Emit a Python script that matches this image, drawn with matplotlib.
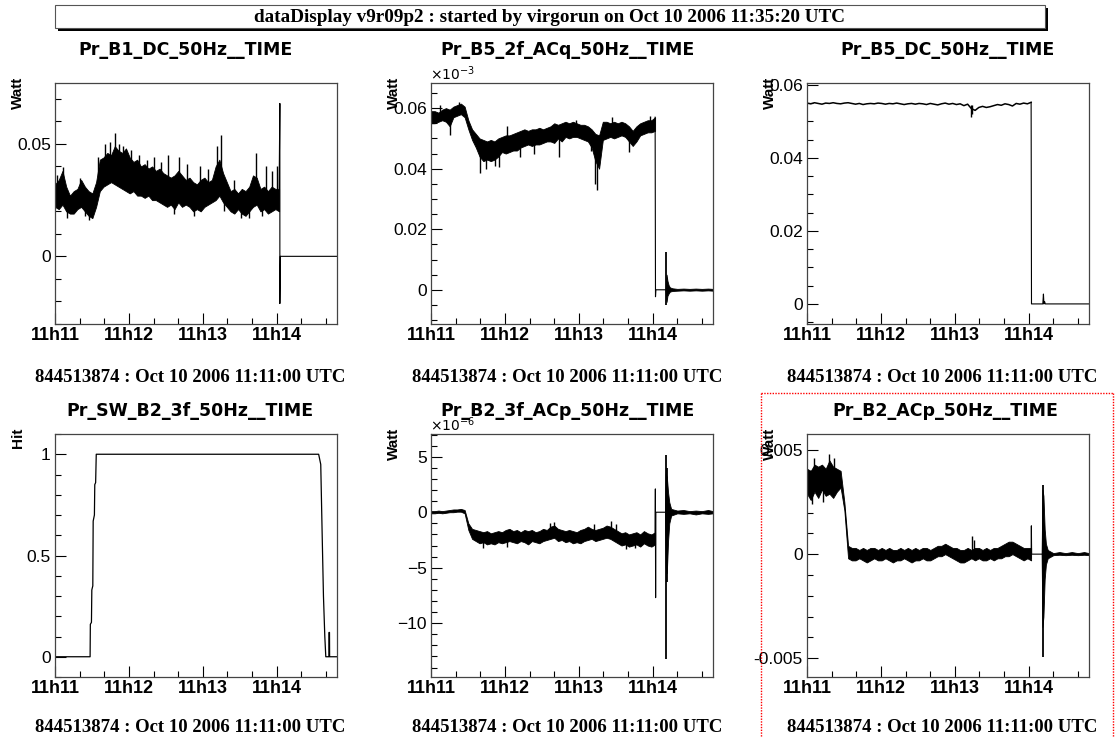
import numpy as np
import matplotlib
matplotlib.use('Agg')
import matplotlib.pyplot as plt
from matplotlib.ticker import MultipleLocator, FixedLocator
from matplotlib.patches import Rectangle
from matplotlib.lines import Line2D

W, H = 1115, 737

# time in seconds after 11h11:00
t_band = np.linspace(0, 182, 61)
t_end = 229
time_ticks = [0, 60, 120, 180]
time_labels = ['11h11', '11h12', '11h13', '11h14']

titles = ['Pr_B1_DC_50Hz__TIME', 'Pr_B5_2f_ACq_50Hz__TIME', 'Pr_B5_DC_50Hz__TIME',
          'Pr_SW_B2_3f_50Hz__TIME', 'Pr_B2_3f_ACp_50Hz__TIME', 'Pr_B2_ACp_50Hz__TIME']
units = ['Watt', 'Watt', 'Watt', 'Hit', 'Watt', 'Watt']
gps_label = '844513874 : Oct 10 2006 11:11:00 UTC'
header = 'dataDisplay v9r09p2 : started by virgorun on Oct 10 2006 11:35:20 UTC'

# ---- Pr_B1_DC_50Hz
b1_hi = [0.032, 0.034, 0.038, 0.031, 0.027, 0.029, 0.030, 0.034, 0.031, 0.029,
         0.028, 0.033, 0.043, 0.044, 0.046, 0.045, 0.049, 0.047, 0.046, 0.048,
         0.044, 0.042, 0.043, 0.040, 0.041, 0.039, 0.040, 0.038, 0.039, 0.037,
         0.036, 0.035, 0.036, 0.038, 0.036, 0.034, 0.035, 0.033, 0.032, 0.034,
         0.035, 0.033, 0.034, 0.040, 0.043, 0.037, 0.033, 0.029, 0.030, 0.028,
         0.030, 0.029, 0.031, 0.036, 0.035, 0.030, 0.031, 0.029, 0.031, 0.030, 0.030]
b1_lo = [0.022, 0.021, 0.023, 0.020, 0.019, 0.019, 0.021, 0.022, 0.020, 0.018,
         0.017, 0.022, 0.029, 0.031, 0.032, 0.033, 0.032, 0.031, 0.030, 0.029,
         0.028, 0.029, 0.027, 0.027, 0.026, 0.027, 0.025, 0.025, 0.024, 0.023,
         0.022, 0.023, 0.021, 0.024, 0.022, 0.023, 0.022, 0.020, 0.021, 0.020,
         0.022, 0.023, 0.024, 0.025, 0.027, 0.024, 0.022, 0.020, 0.019, 0.021,
         0.019, 0.018, 0.020, 0.022, 0.023, 0.020, 0.021, 0.019, 0.020, 0.021, 0.020]
b1_spk_t = [2, 6.5, 10, 20, 24, 28, 35, 41, 44.6, 48.7, 52, 55.5, 61.8, 68, 75, 80, 86,
            92, 97, 101, 107, 113, 118, 124, 131.7, 134.4, 137, 145, 151, 157.5, 163,
            168, 171, 176, 180]
b1_spk_v = [0.036, 0.0396, 0.017, 0.035, 0.018, 0.016, 0.044, 0.050, 0.051, 0.055,
            0.050, 0.049, 0.0475, 0.045, 0.043, 0.044, 0.042, 0.045, 0.019, 0.044,
            0.041, 0.018, 0.040, 0.039, 0.049, 0.054, 0.020, 0.034, 0.017, 0.017,
            0.046, 0.018, 0.040, 0.038, 0.040]
b1_tail_t = [182, 182.6, 182.6, 183.0, t_end]
b1_tail_v = [0.030, 0.068, -0.021, 0.0, 0.0]

# ---- Pr_B5_2f_ACq_50Hz (x 1e-3 on the axis)
b5q_hi = [0.059, 0.059, 0.0585, 0.0595, 0.060, 0.0595, 0.0605, 0.061, 0.0615, 0.0605,
          0.056, 0.053, 0.0515, 0.050, 0.0495, 0.049, 0.0495, 0.049, 0.050, 0.0505,
          0.051, 0.051, 0.0515, 0.052, 0.0525, 0.053, 0.0525, 0.053, 0.053, 0.0535,
          0.053, 0.0535, 0.054, 0.055, 0.0545, 0.055, 0.0555, 0.055, 0.0555, 0.055,
          0.0545, 0.0545, 0.054, 0.053, 0.0515, 0.051, 0.0555, 0.0555, 0.055, 0.0555,
          0.055, 0.0555, 0.055, 0.054, 0.0525, 0.054, 0.055, 0.0555, 0.056, 0.056, 0.057]
b5q_lo = [0.055, 0.055, 0.0555, 0.056, 0.0555, 0.054, 0.057, 0.0575, 0.058, 0.057,
          0.053, 0.0495, 0.047, 0.044, 0.0425, 0.043, 0.0425, 0.043, 0.044, 0.0455,
          0.045, 0.0455, 0.046, 0.046, 0.047, 0.0475, 0.048, 0.0475, 0.048, 0.048,
          0.0485, 0.049, 0.049, 0.0485, 0.050, 0.049, 0.0505, 0.050, 0.0505, 0.0505,
          0.050, 0.0495, 0.049, 0.047, 0.0425, 0.040, 0.0495, 0.050, 0.0505, 0.050,
          0.0505, 0.051, 0.0505, 0.049, 0.0475, 0.049, 0.051, 0.0515, 0.052, 0.052, 0.0525]
b5q_spk_t = [7, 15.5, 23, 40, 45, 52, 55, 62, 72, 84, 104, 118, 130, 133.5, 134.5, 147, 161, 178]
b5q_spk_v = [0.061, 0.051, 0.062, 0.0385, 0.040, 0.041, 0.0405, 0.054, 0.044, 0.045,
             0.044, 0.056, 0.046, 0.035, 0.033, 0.057, 0.0455, 0.0575]
b5q_tail_t = [182, 182.3, 182.6, 190.5]
b5q_tail_v = [0.057, -0.0023, 0.0, 0.0]
b5q_post_t = [190.5, 191.3, 192, 193, 194, 196, 200, 205, 210, 215, 220, 225, t_end]
b5q_post_hi = [0.0, 0.005, 0.003, 0.0015, 0.0008, 0.0005, 0.0003, 0.0004, 0.0003, 0.0004, 0.0003, 0.0004, 0.0003]
b5q_post_lo = [0.0, -0.004, -0.002, -0.0012, -0.0006, -0.0004, -0.0003, -0.0002, -0.0003, -0.0002, -0.0003, -0.0002, -0.0003]
b5q_burst_t = [191.0]
b5q_burst_hi = [0.0126]
b5q_burst_lo = [-0.005]

# ---- Pr_B5_DC_50Hz
b5dc_v = [0.0550, 0.0548, 0.0551, 0.0549, 0.0547, 0.0550, 0.0549, 0.0551, 0.0549, 0.0548,
          0.0550, 0.0551, 0.0549, 0.0547, 0.0549, 0.0546, 0.0548, 0.0549, 0.0548, 0.0550,
          0.0549, 0.0547, 0.0549, 0.0548, 0.0550, 0.0548, 0.0546, 0.0548, 0.0549, 0.0547,
          0.0549, 0.0548, 0.0546, 0.0549, 0.0547, 0.0545, 0.0548, 0.0550, 0.0547, 0.0549,
          0.0546, 0.0548, 0.0543, 0.0547, 0.0535, 0.0530, 0.0538, 0.0541, 0.0538, 0.0540,
          0.0543, 0.0546, 0.0544, 0.0548, 0.0546, 0.0542, 0.0549, 0.0547, 0.0550, 0.0548, 0.0552]
b5dc_spk_t = [133.5, 134.3]
b5dc_spk_v = [0.0513, 0.0520]
b5dc_tail_t = [182, 182.3, 191.5, 192, 192.4, 193, 193.5, t_end]
b5dc_tail_v = [0.0552, 0.0, 0.0, 0.0027, 0.0, 0.0006, 0.0, 0.0]

# ---- Pr_SW_B2_3f_50Hz
sw_t = [0, 28.5, 28.7, 29.6, 29.9, 30.7, 31.0, 32.0, 32.3, 33.0, 33.5, 214.1, 215.8,
        216.9, 218.0, 219.1, 219.9, 222.4, 222.5, 222.9, 223.0, t_end]
sw_v = [0, 0, 0.16, 0.17, 0.33, 0.35, 0.67, 0.70, 0.85, 0.86, 1.0, 1.0, 0.95,
        0.62, 0.30, 0.10, 0.0, 0.0, 0.12, 0.12, 0.0, 0.0]

# ---- Pr_B2_3f_ACp_50Hz (x 1e-6 on the axis)
b2p3_hi = [0.1, 0.1, 0.15, 0.1, 0.15, 0.2, 0.25, 0.25, 0.3, 0.2,
           -1.0, -1.5, -1.6, -1.7, -1.8, -1.7, -1.9, -1.8, -1.7, -1.8,
           -1.6, -1.5, -1.7, -1.6, -1.8, -1.6, -1.7, -1.6, -1.8, -1.7,
           -1.5, -1.6, -1.3, -1.2, -1.5, -1.6, -1.7, -1.6, -1.7, -1.8,
           -1.6, -1.5, -1.3, -1.5, -1.6, -1.5, -1.4, -1.2, -1.3, -1.5,
           -1.7, -1.9, -1.8, -2.0, -1.9, -1.8, -2.0, -1.7, -1.9, -2.0, -1.8]
b2p3_lo = [-0.1, -0.1, -0.05, -0.1, -0.05, 0.0, 0.0, 0.05, 0.05, -0.1,
           -1.6, -2.4, -2.6, -2.8, -2.7, -2.9, -2.8, -2.9, -2.7, -2.8,
           -2.7, -2.6, -2.7, -2.8, -2.6, -2.7, -2.9, -2.6, -2.7, -2.8,
           -2.6, -2.5, -2.4, -2.3, -2.6, -2.5, -2.7, -2.6, -2.8, -2.7,
           -2.8, -2.6, -2.5, -2.4, -2.6, -2.5, -2.4, -2.3, -2.4, -2.6,
           -2.8, -3.0, -2.9, -3.1, -3.0, -2.9, -3.1, -2.8, -3.0, -3.1, -2.9]
b2p3_spk_t = [42, 62, 97, 100, 132, 146, 150, 158, 166]
b2p3_spk_v = [-3.2, -3.1, -1.0, -0.9, -1.1, -0.8, -1.1, -3.3, -3.2]
b2p3_tail_t = [182, 182.2, 182.4, 182.6, 190.0]
b2p3_tail_v = [-2.0, 2.1, -7.7, 0.0, 0.0]
b2p3_post_t = [190.0, 190.6, 191.5, 192.5, 193.5, 195, 200, 205, 210, 215, 220, 225, t_end]
b2p3_post_hi = [0.0, 3.5, 3.2, 1.8, 0.9, 0.3, 0.15, 0.2, 0.1, 0.15, 0.1, 0.2, 0.1]
b2p3_post_lo = [0.0, -5.0, -5.5, -2.6, -1.0, -0.3, -0.1, -0.15, -0.1, -0.2, -0.1, -0.15, -0.1]
b2p3_burst_t = [190.6, 191.3]
b2p3_burst_hi = [5.2, 4.0]
b2p3_burst_lo = [-13.2, -6.3]

# ---- Pr_B2_ACp_50Hz
b2p_hi = [0.0041, 0.0040, 0.0043, 0.0042, 0.0043, 0.0041, 0.0045, 0.0042, 0.0041, 0.0040,
          0.0025, 0.0004, 0.0003, 0.0003, 0.0002, 0.0003, 0.0002, 0.0003, 0.0003, 0.0002,
          0.0003, 0.0002, 0.0003, 0.0002, 0.0002, 0.0003, 0.0002, 0.0003, 0.0002, 0.0003,
          0.0002, 0.0003, 0.0003, 0.0002, 0.0003, 0.0004, 0.0004, 0.0005, 0.0004, 0.0003,
          0.0003, 0.0002, 0.0002, 0.0003, 0.0002, 0.0003, 0.0003, 0.0002, 0.0003, 0.0002,
          0.0003, 0.0003, 0.0004, 0.0005, 0.0006, 0.0006, 0.0005, 0.0004, 0.0003, 0.0003, 0.0003]
b2p_lo = [0.0029, 0.0026, 0.0030, 0.0027, 0.0031, 0.0028, 0.0029, 0.0027, 0.0030, 0.0032,
          0.0021, -0.0002, -0.0003, -0.0003, -0.0002, -0.0003, -0.0004, -0.0003, -0.0002, -0.0003,
          -0.0003, -0.0002, -0.0003, -0.0004, -0.0003, -0.0003, -0.0002, -0.0003, -0.0004, -0.0003,
          -0.0003, -0.0002, -0.0003, -0.0003, -0.0002, -0.0001, -0.0001, 0.0000, -0.0001, -0.0002,
          -0.0003, -0.0004, -0.0004, -0.0003, -0.0002, -0.0003, -0.0002, -0.0003, -0.0003, -0.0002,
          -0.0003, -0.0002, -0.0002, -0.0001, -0.0001, 0.0000, -0.0001, -0.0002, -0.0003, -0.0002, -0.0003]
b2p_spk_t = [4, 6, 13, 18, 22, 134, 136]
b2p_spk_v = [0.0024, 0.0046, 0.0025, 0.0048, 0.0046, 0.00085, 0.0007]
b2p_tail_t = [182, 182.2, 182.4, 190.5]
b2p_tail_v = [-0.0002, 0.00136, 0.0, 0.0]
b2p_post_t = [190.5, 191.2, 192, 193, 194, 195.5, 200, 205, 210, 215, 220, 225, t_end]
b2p_post_hi = [0.0, 0.0031, 0.0028, 0.0012, 0.0005, 0.0002, 0.00005, 0.0001, 0.00005, 0.0001, 0.00005, 0.0001, 0.00005]
b2p_post_lo = [0.0, -0.0035, -0.0030, -0.0012, -0.0005, -0.0002, -0.00005, -0.00003, -0.00005, -0.00003, -0.00005, -0.00003, -0.00005]
b2p_burst_t = [191.6]
b2p_burst_hi = [0.00333]
b2p_burst_lo = [-0.00494]

# axes frames in pixels: left, top, right, bottom
boxes = [(55, 83, 337, 324), (431, 83, 713, 324), (807, 83, 1089, 324),
         (55, 434, 337, 677), (431, 434, 713, 677), (807, 434, 1089, 677)]
ylims = [(-0.0301, 0.0771), (-0.0113, 0.0683), (-0.0055, 0.0605),
         (-0.1, 1.1), (-14.85, 7.05), (-0.0059, 0.00577)]
yticks = [[0, 0.05], [0, 0.02, 0.04, 0.06], [0, 0.02, 0.04, 0.06],
          [0, 0.5, 1], [-10, -5, 0, 5], [-0.005, 0, 0.005]]
ylabels = [['0', '0.05'], ['0', '0.02', '0.04', '0.06'], ['0', '0.02', '0.04', '0.06'],
           ['0', '0.5', '1'], ['\u221210', '\u22125', '0', '5'], ['-0.005', '0', '0.005']]
yminor = [0.01, 0.005, 0.005, 0.1, 1, 0.001]
exponents = [None, r'$\times10^{-3}$', None, None, r'$\times10^{-6}$', None]
title_x = [186, 567, 948, 190, 567, 945]
title_y = [50, 50, 50, 411, 411, 411]
foot_x = [190, 567, 942, 190, 567, 942]
foot_y = [378, 378, 378, 727, 727, 727]

fig = plt.figure(figsize=(W / 100, H / 100), dpi=100)
fig.patch.set_facecolor('white')


def band(ax, hi, lo, spk_t, spk_v):
    hi = np.array(hi)
    lo = np.array(lo)
    ax.fill_between(t_band, lo, hi, color='black', lw=0.6)
    idx = [np.abs(t_band - s).argmin() for s in spk_t]
    mid = [(hi[i] + lo[i]) / 2 for i in idx]
    ax.vlines(spk_t, mid, spk_v, color='black', lw=1.0)


def burst(ax, pt, phi, plo, bt, bhi, blo):
    ax.fill_between(pt, plo, phi, color='black', lw=0.6)
    ax.vlines(bt, blo, bhi, color='black', lw=1.3)


axes = []
for i, (x0, y0, x1, y1) in enumerate(boxes):
    ax = fig.add_axes([x0 / W, 1 - y1 / H, (x1 - x0) / W, (y1 - y0) / H])
    axes.append(ax)
    ax.set_xlim(0, t_end)
    ax.set_ylim(*ylims[i])
    ax.xaxis.set_major_locator(FixedLocator(time_ticks))
    ax.set_xticklabels(time_labels, fontfamily='Liberation Sans', fontweight='bold', fontsize=13)
    ax.xaxis.set_minor_locator(MultipleLocator(20))
    ax.yaxis.set_major_locator(FixedLocator(yticks[i]))
    ax.set_yticklabels(ylabels[i], fontfamily='Liberation Sans', fontsize=12.5)
    ax.yaxis.set_minor_locator(MultipleLocator(yminor[i]))
    ax.tick_params(which='major', direction='in', length=8, width=0.8, pad=3)
    ax.tick_params(which='minor', direction='in', length=4, width=0.8)
    ax.tick_params(axis='x', which='major', pad=2)
    for s in ax.spines.values():
        s.set_linewidth(0.9)
        s.set_color('#444444')
    ax.text(-37 / (x1 - x0), 1.025, units[i], transform=ax.transAxes, rotation=90,
            ha='center', va='top', fontsize=11, fontweight='bold', fontfamily='Liberation Sans')
    if exponents[i]:
        ax.text(-0.005, 1.0, exponents[i], transform=ax.transAxes, ha='left', va='bottom',
                fontsize=10)
    fig.text(title_x[i] / W, 1 - title_y[i] / H, titles[i], ha='center', va='center',
             fontsize=12.5, fontweight='bold', fontfamily='DejaVu Sans')
    fig.text(foot_x[i] / W, 1 - foot_y[i] / H, gps_label, ha='center', va='center',
             fontsize=13.5, fontweight='bold', fontfamily='Liberation Serif')

ax1, ax2, ax3, ax4, ax5, ax6 = axes

band(ax1, b1_hi, b1_lo, b1_spk_t, b1_spk_v)
ax1.plot(b1_tail_t, b1_tail_v, color='black', lw=0.8)

band(ax2, b5q_hi, b5q_lo, b5q_spk_t, b5q_spk_v)
ax2.plot(b5q_tail_t, b5q_tail_v, color='black', lw=0.8)
burst(ax2, b5q_post_t, b5q_post_hi, b5q_post_lo, b5q_burst_t, b5q_burst_hi, b5q_burst_lo)

ax3.plot(t_band, b5dc_v, color='black', lw=1.1)
ax3.vlines(b5dc_spk_t, 0.0545, b5dc_spk_v, color='black', lw=1.0)
ax3.plot(b5dc_tail_t, b5dc_tail_v, color='black', lw=0.8)

ax4.plot(sw_t, sw_v, color='black', lw=0.9)

band(ax5, b2p3_hi, b2p3_lo, b2p3_spk_t, b2p3_spk_v)
ax5.plot(b2p3_tail_t, b2p3_tail_v, color='black', lw=0.8)
burst(ax5, b2p3_post_t, b2p3_post_hi, b2p3_post_lo, b2p3_burst_t, b2p3_burst_hi, b2p3_burst_lo)

band(ax6, b2p_hi, b2p_lo, b2p_spk_t, b2p_spk_v)
ax6.plot(b2p_tail_t, b2p_tail_v, color='black', lw=0.8)
burst(ax6, b2p_post_t, b2p_post_hi, b2p_post_lo, b2p_burst_t, b2p_burst_hi, b2p_burst_lo)

# header box with drop shadow
fig.patches.append(Rectangle((58 / W, 1 - 31 / H), 990 / W, 23 / H, transform=fig.transFigure,
                             facecolor='black', edgecolor='none'))
fig.patches.append(Rectangle((55 / W, 1 - 28 / H), 990 / W, 23 / H, transform=fig.transFigure,
                             facecolor='white', edgecolor='#555555', lw=0.8))
fig.text(550 / W, 1 - 17 / H, header, ha='center', va='center', fontsize=13.8,
         fontweight='bold', fontfamily='Liberation Serif')

# selected pad outline
red = dict(color='red', lw=1.0, ls=(0, (1, 1)), transform=fig.transFigure)
fig.lines.append(Line2D([761 / W, 761 / W], [1 - 393 / H, 0], **red))
fig.lines.append(Line2D([761 / W, 1113 / W], [1 - 393 / H, 1 - 393 / H], **red))
fig.lines.append(Line2D([1113 / W, 1113 / W], [1 - 393 / H, 0], **red))

fig.savefig('out.png', dpi=100)
